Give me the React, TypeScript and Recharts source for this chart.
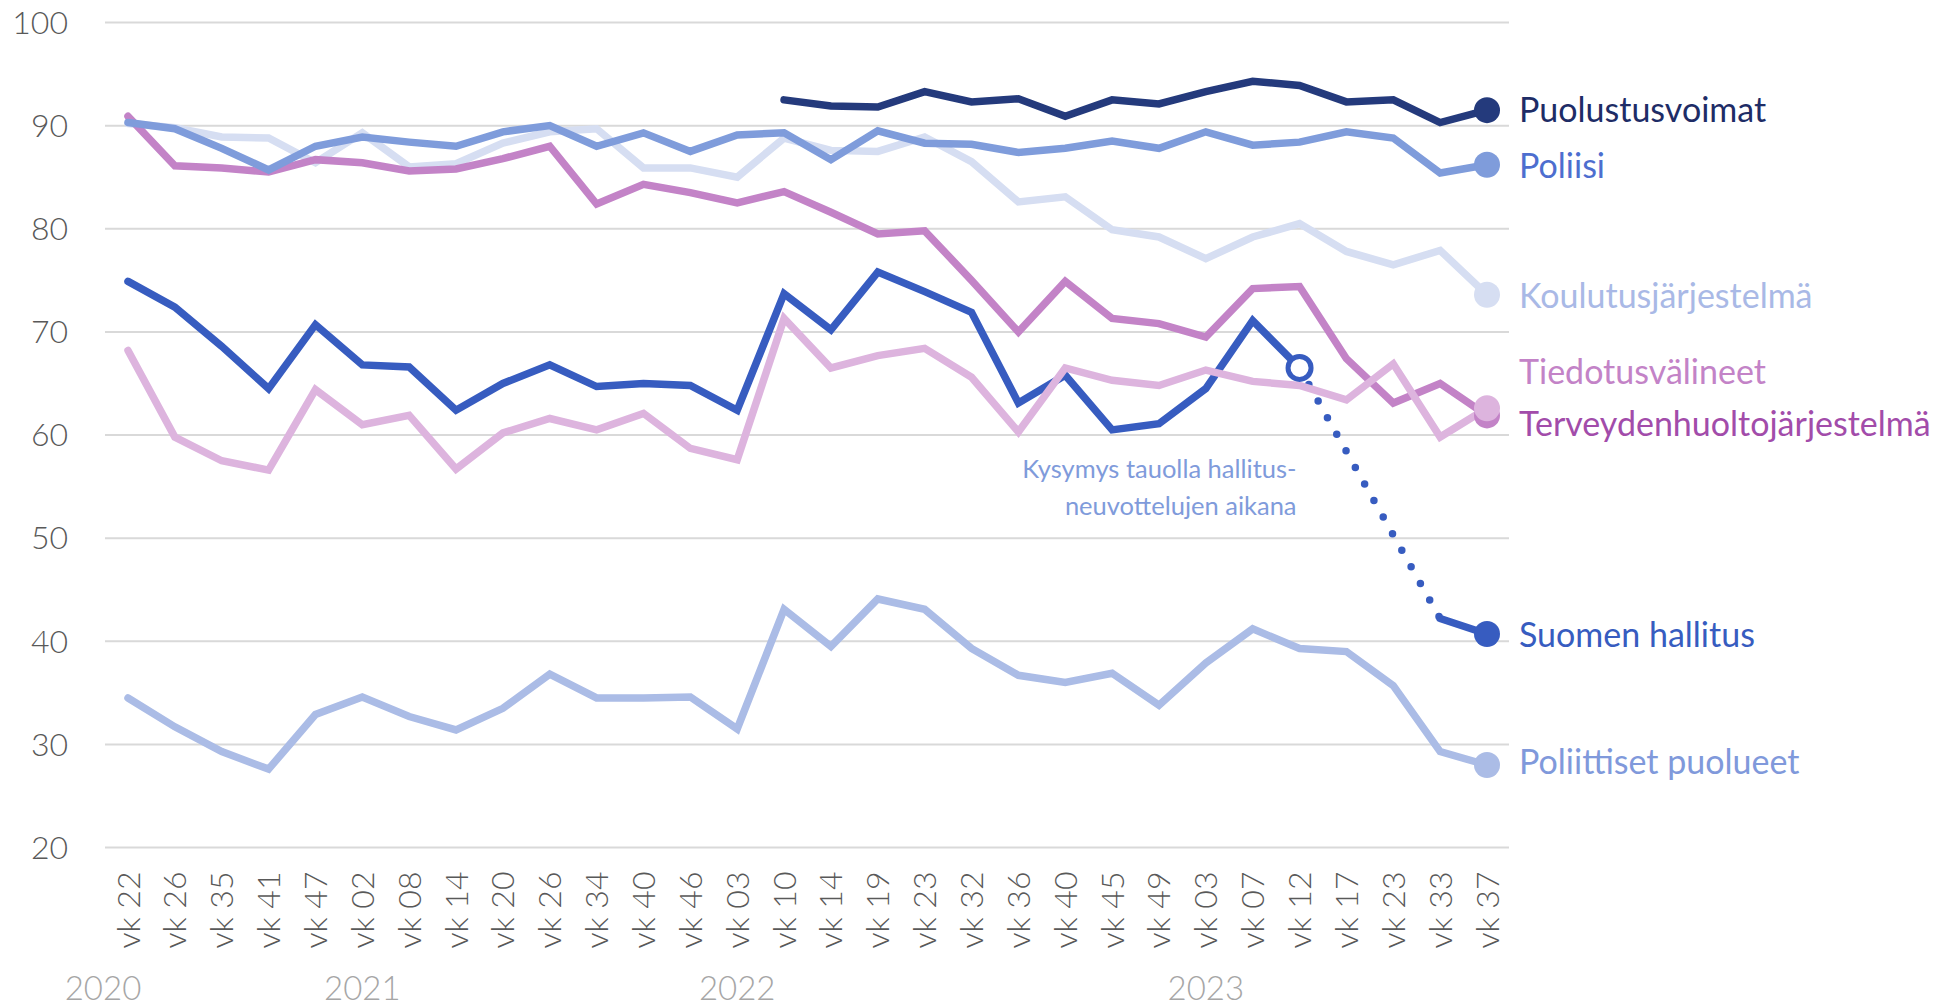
import { LineChart, Line, XAxis, YAxis, CartesianGrid } from "recharts";

const WEEKS = [
  "vk 22", "vk 26", "vk 35", "vk 41", "vk 47",
  "vk 02", "vk 08", "vk 14", "vk 20", "vk 26", "vk 34", "vk 40", "vk 46",
  "vk 03", "vk 10", "vk 14", "vk 19", "vk 23", "vk 32", "vk 36", "vk 40", "vk 45", "vk 49",
  "vk 03", "vk 07", "vk 12", "vk 17", "vk 23", "vk 33", "vk 37",
];

// first week of each year
const YEARS = [
  { index: 0, label: "2020" },
  { index: 5, label: "2021" },
  { index: 13, label: "2022" },
  { index: 23, label: "2023" },
];

const Y_TICKS = [20, 30, 40, 50, 60, 70, 80, 90, 100];

const PUOLUSTUSVOIMAT = [
  null, null, null, null, null, null, null, null, null, null, null, null, null, null,
  92.5, 91.9, 91.8, 93.3, 92.3, 92.6, 90.9, 92.5, 92.1, 93.3, 94.3, 93.9, 92.3, 92.5, 90.3, 91.5,
];
const POLIISI = [
  90.3, 89.7, 87.8, 85.7, 88.0, 88.9, 88.4, 88.0, 89.4, 90.0, 88.0, 89.3, 87.5, 89.1, 89.3,
  86.7, 89.5, 88.3, 88.2, 87.4, 87.8, 88.5, 87.8, 89.4, 88.1, 88.4, 89.4, 88.8, 85.4, 86.2,
];
const KOULUTUS = [
  90.2, 89.8, 88.9, 88.8, 86.4, 89.3, 86.0, 86.3, 88.3, 89.4, 89.7, 85.9, 85.9, 85.0, 88.8,
  87.6, 87.5, 88.9, 86.5, 82.6, 83.1, 79.9, 79.2, 77.1, 79.2, 80.5, 77.8, 76.5, 77.9, 73.6,
];
const TIEDOTUS = [
  68.2, 59.8, 57.5, 56.6, 64.4, 61.0, 61.9, 56.7, 60.2, 61.6, 60.5, 62.1, 58.7, 57.6, 71.3,
  66.5, 67.7, 68.4, 65.6, 60.3, 66.5, 65.3, 64.8, 66.3, 65.2, 64.8, 63.4, 66.9, 59.8, 62.6,
];
const TERVEYS = [
  90.9, 86.1, 85.9, 85.5, 86.7, 86.4, 85.6, 85.8, 86.8, 88.0, 82.4, 84.3, 83.5, 82.5, 83.6,
  81.6, 79.5, 79.8, 75.0, 70.0, 74.9, 71.3, 70.8, 69.5, 74.2, 74.4, 67.4, 63.1, 65.0, 61.9,
];
// vk 17 and vk 23 of 2023 not asked (hallitusneuvottelut)
const HALLITUS = [
  74.9, 72.4, 68.6, 64.5, 70.7, 66.8, 66.6, 62.4, 65.0, 66.8, 64.7, 65.0, 64.8, 62.4, 73.7,
  70.2, 75.8, 73.9, 71.9, 63.1, 65.8, 60.5, 61.1, 64.5, 71.1, 66.5, null, null, 42.2, 40.7,
];
const PUOLUEET = [
  34.5, 31.7, 29.3, 27.6, 32.9, 34.6, 32.7, 31.4, 33.5, 36.8, 34.5, 34.5, 34.6, 31.5, 43.1,
  39.5, 44.1, 43.1, 39.3, 36.7, 36.0, 36.9, 33.8, 37.9, 41.2, 39.3, 39.0, 35.7, 29.3, 28.0,
];

const LAST = WEEKS.length - 1;
const FONT = "Lato, 'Open Sans', sans-serif";

// points on both sides of the pause, joined by a dotted line
const gapStart = HALLITUS.findIndex((v, i) => v !== null && HALLITUS[i + 1] === null);
const gapEnd = HALLITUS.findIndex((v, i) => i > gapStart && v !== null);
const HALLITUS_TAUKO = HALLITUS.map((v, i) => (i === gapStart || i === gapEnd ? v : null));

const data = WEEKS.map((week, i) => ({
  week,
  puolustus: PUOLUSTUSVOIMAT[i],
  poliisi: POLIISI[i],
  koulutus: KOULUTUS[i],
  tiedotus: TIEDOTUS[i],
  terveys: TERVEYS[i],
  hallitus: HALLITUS[i],
  tauko: HALLITUS_TAUKO[i],
  puolueet: PUOLUEET[i],
}));

type Series = {
  key: string;
  name: string;
  color: string;
  text: string;
  labelDy: number;
};

// drawing order: later ones on top
const SERIES: Series[] = [
  { key: "koulutus", name: "Koulutusjärjestelmä", color: "#D6DEF2", text: "#A9B9E6", labelDy: 0 },
  { key: "terveys", name: "Terveydenhuoltojärjestelmä", color: "#C383C7", text: "#A24CAA", labelDy: 7 },
  { key: "poliisi", name: "Poliisi", color: "#7F9CDB", text: "#4D6ECF", labelDy: 0 },
  { key: "puolustus", name: "Puolustusvoimat", color: "#243A7C", text: "#1E2C66", labelDy: -2 },
  { key: "hallitus", name: "Suomen hallitus", color: "#375CC0", text: "#375CC0", labelDy: -1 },
  { key: "tiedotus", name: "Tiedotusvälineet", color: "#DDB4DE", text: "#C383C7", labelDy: -38 },
  { key: "puolueet", name: "Poliittiset puolueet", color: "#ABBCE6", text: "#8099DB", labelDy: -5 },
];

function endDot(s: Series) {
  return (p: any) => {
    if (p.index !== LAST || p.value == null) return <g key={`${s.key}-${p.index}`} />;
    return (
      <g key={`${s.key}-${p.index}`}>
        <circle cx={p.cx} cy={p.cy} r={13} fill={s.color} />
        <text
          x={p.cx + 32}
          y={p.cy + s.labelDy}
          dominantBaseline="central"
          fill={s.text}
          fontSize={34}
          fontFamily={FONT}
        >
          {s.name}
        </text>
      </g>
    );
  };
}

function taukoDot(p: any) {
  if (p.index !== gapStart) return <g key={`tauko-${p.index}`} />;
  return (
    <g key={`tauko-${p.index}`}>
      <circle cx={p.cx} cy={p.cy} r={11.5} fill="#fff" stroke="#375CC0" strokeWidth={5} />
      <text textAnchor="end" fill="#7F9BDB" fontSize={25.5} fontFamily={FONT}>
        <tspan x={p.cx - 3} y={p.cy + 110}>Kysymys tauolla hallitus-</tspan>
        <tspan x={p.cx - 3} y={p.cy + 147}>neuvottelujen aikana</tspan>
      </text>
    </g>
  );
}

function WeekTick(props: any) {
  const { x, y, payload } = props;
  const year = YEARS.find((yr) => yr.index === payload.index);
  return (
    <g>
      <text
        x={x}
        y={y + 24}
        transform={`rotate(-90, ${x}, ${y + 24})`}
        textAnchor="end"
        dy="0.36em"
        fill="#595959"
        fontSize={32}
        fontFamily={FONT}
        fontWeight={300}
      >
        {payload.value}
      </text>
      {year && (
        <text
          x={x + (year.index === 0 ? -25 : 0)}
          y={y + 152}
          textAnchor="middle"
          fill="#A6A6A6"
          fontSize={33}
          fontFamily={FONT}
          fontWeight={300}
        >
          {year.label}
        </text>
      )}
    </g>
  );
}

export default function App() {
  return (
    <div style={{ position: "absolute", left: 0, top: 0, background: "#fff" }}>
      <LineChart
        width={1936}
        height={1007}
        data={data}
        margin={{ top: 22.5, right: 427, bottom: 0, left: 0 }}
      >
        <CartesianGrid vertical={false} stroke="#D9D9D9" strokeWidth={2} />
        <XAxis
          dataKey="week"
          interval={0}
          height={159.5}
          axisLine={false}
          tickLine={false}
          tickSize={0}
          tickMargin={0}
          padding={{ left: 23, right: 22 }}
          tick={<WeekTick />}
        />
        <YAxis
          domain={[20, 100]}
          ticks={Y_TICKS}
          width={105}
          axisLine={false}
          tickLine={false}
          tickSize={0}
          tickMargin={37}
          tick={{ fill: "#595959", fontSize: 32, fontFamily: FONT, fontWeight: 300 }}
        />
        {SERIES.slice(0, 5).map((s) => (
          <Line
            key={s.key}
            dataKey={s.key}
            stroke={s.color}
            strokeWidth={7.5}
            strokeLinecap="round"
            dot={endDot(s)}
            activeDot={false}
            isAnimationActive={false}
          />
        ))}
        <Line
          dataKey="tauko"
          stroke="#375CC0"
          strokeWidth={7.5}
          strokeLinecap="round"
          strokeDasharray="0 19"
          connectNulls
          dot={taukoDot}
          activeDot={false}
          isAnimationActive={false}
        />
        {SERIES.slice(5).map((s) => (
          <Line
            key={s.key}
            dataKey={s.key}
            stroke={s.color}
            strokeWidth={7.5}
            strokeLinecap="round"
            dot={endDot(s)}
            activeDot={false}
            isAnimationActive={false}
          />
        ))}
      </LineChart>
    </div>
  );
}
